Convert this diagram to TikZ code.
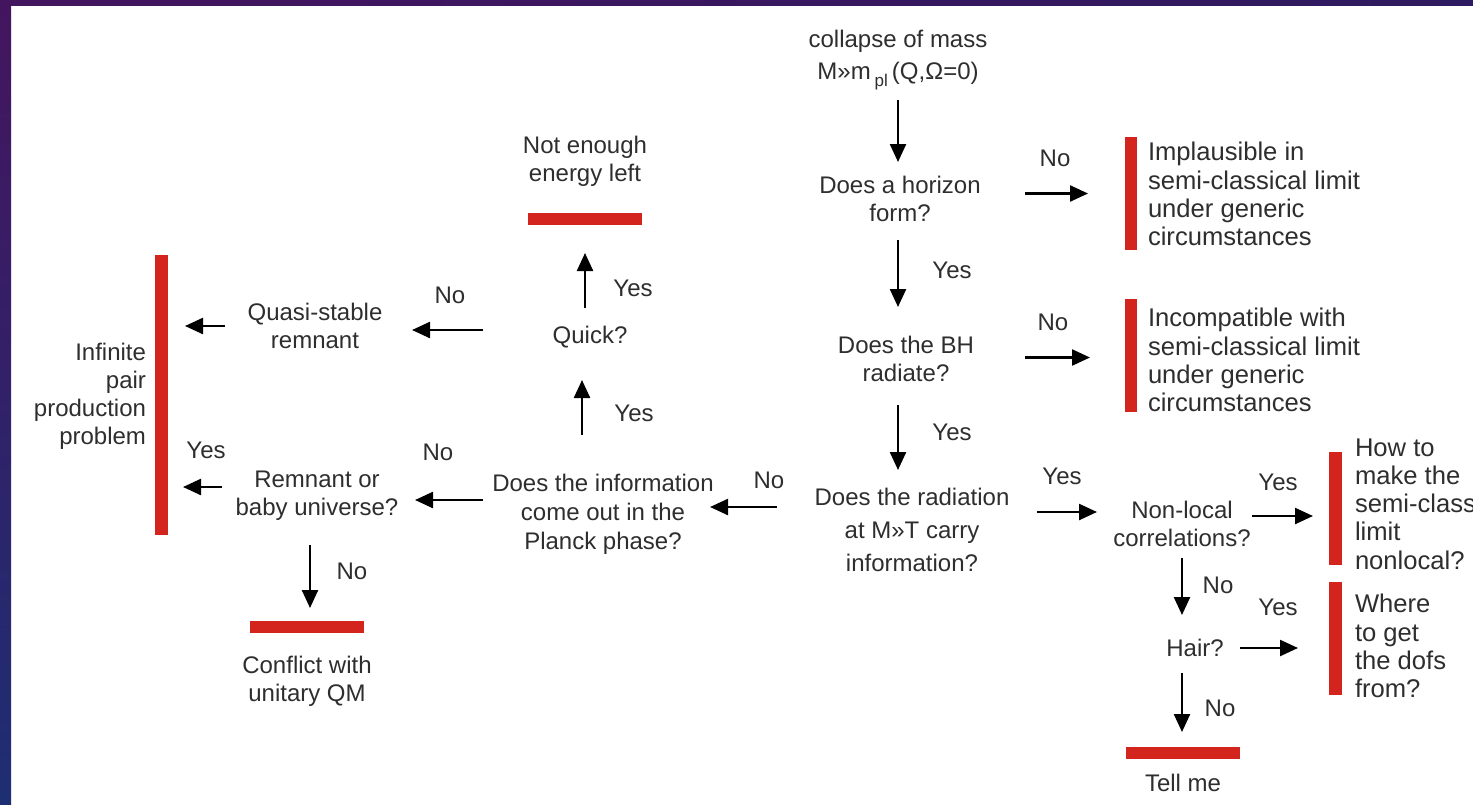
\documentclass[tikz,border=0pt]{standalone}
\usepackage{fontspec}
\setmainfont{Liberation Sans}
\usetikzlibrary{arrows.meta,calc}
\definecolor{txt}{HTML}{2E2E2E}
\definecolor{barred}{HTML}{D4241E}
\definecolor{bgpurple}{HTML}{44155F}
\definecolor{bgpurple2}{HTML}{2E1A60}
\definecolor{bgblue}{HTML}{1E2E72}
\tikzset{
  lbl/.style={text=txt, inner sep=0pt, outer sep=0pt, font=\fontsize{12}{14}\selectfont},
  qbox/.style={text=txt, inner sep=0pt, outer sep=0pt, align=center, font=\fontsize{12}{14}\selectfont},
  rbox/.style={text=txt, inner sep=0pt, outer sep=0pt, align=left, anchor=west, font=\fontsize{12.8}{14.1}\selectfont},
  hbar/.style={fill=barred, inner sep=0pt, outer sep=0pt, minimum width=57pt, minimum height=6pt},
  vbar/.style={fill=barred, inner sep=0pt, outer sep=0pt, minimum width=6.3pt, minimum height=56.5pt},
  arr/.style={draw=black, line width=1.2pt, -{Triangle[length=9pt,width=8pt]}},
  gap/.style 2 args={shorten <=#1*0.5pt, shorten >=#2*0.5pt}
}
\begin{document}
\begin{tikzpicture}[x=0.5pt,y=-0.5pt]
\useasboundingbox (0,0) rectangle (1473,804);
\clip (0,0) rectangle (1473,804);
% frame
\fill[white] (0,0) rectangle (1473,804);
\shade[left color=bgpurple, right color=bgpurple2] (0,0) rectangle (1473,5);
\shade[top color=bgpurple, bottom color=bgblue] (0,0) rectangle (11,804);

% decision / text nodes
\node[qbox] (collapse) at (898,60) {collapse of mass\\[2pt]M»m\,\raisebox{-0.55ex}{\fontsize{8.5}{9}\selectfont pl}\,(Q,Ω=0)};
\node[qbox] (horizon) at (900,199) {Does a horizon\\form?};
\node[qbox] (bh) at (906,359) {Does the BH\\radiate?};
\node[qbox, font=\fontsize{12}{16.5}\selectfont] (radiation) at (912,530) {Does the radiation\\at M»T carry\\information?};
\node[qbox, font=\fontsize{12}{14.5}\selectfont] (info) at (603,514) {Does the information\\come out in the\\Planck phase?};
\node[qbox] (remnant) at (317,496) {Remnant or\\baby universe?};
\node[qbox] (quasi) at (315,326) {Quasi-stable\\remnant};
\node[qbox] (quick) at (590,337) {Quick?};
\node[qbox] (notenough) at (585,161) {Not enough\\energy left};
\node[qbox] (nonlocal) at (1182,524) {Non-local\\correlations?};
\node[qbox] (hair) at (1195,648) {Hair?};
\node[qbox] (tellme) at (1183,783) {Tell me};
\node[qbox] (conflict) at (307,681) {Conflict with\\unitary QM};
\node[qbox, align=right, anchor=east] (infinite) at (146,396) {Infinite\\pair\\production\\problem};

% outcome texts on the right
\node[rbox] (implaus) at (1148,194) {Implausible in\\semi-classical limit\\under generic\\circumstances};
\node[rbox] (incompat) at (1148,360) {Incompatible with\\semi-classical limit\\under generic\\circumstances};
\node[rbox] (howto) at (1355,504) {How to\\make the\\semi-classical\\limit\\nonlocal?};
\node[rbox] (where) at (1355,646) {Where\\to get\\the dofs\\from?};

% red bars
\node[hbar] (barA) at (585,219) {};
\node[vbar, minimum height=140pt] (barB) at (161.5,395) {};
\node[hbar] (barC) at (307,626.5) {};
\node[vbar] (bar1) at (1131,193.5) {};
\node[vbar] (bar2) at (1131,355.5) {};
\node[vbar] (bar3) at (1335.5,508.5) {};
\node[vbar] (bar4) at (1335.5,638.5) {};
\node[hbar] (barT) at (1183,753) {};

% arrows
\draw[arr, gap={40}{37}] (collapse.center) -- (collapse.center |- horizon.center);
\draw[arr, gap={41}{52}] (collapse.center |- horizon.center) -- (collapse.center |- bh.center);
\draw[arr, gap={46}{60}] (collapse.center |- bh.center) -- (collapse.center |- radiation.center);
\draw[arr, gap={125}{43}] (horizon.center |- bar1.center) -- (bar1.center);
\draw[arr, gap={119}{41}] ($(bh.center |- bar2.center)+(0,2)$) -- ($(bar2.center)+(0,2)$);
\draw[arr, gap={135}{107}] ($(info.center -| radiation.center)+(0,-7)$) -- ($(info.center)+(0,-7)$);
\draw[arr, gap={125}{85}] ($(nonlocal.center -| radiation.center)+(0,-12)$) -- ($(nonlocal.center)+(0,-12)$);
\draw[arr, gap={70}{22.5}] ($(nonlocal.center)+(0,-8)$) -- ($(nonlocal.center -| bar3.center)+(0,-8)$);
\draw[arr, gap={34}{33}] (nonlocal.center) -- (nonlocal.center |- hair.center);
\draw[arr, gap={45}{37.5}] (hair.center) -- (hair.center -| bar4.center);
\draw[arr, gap={25}{21}] ($(barT.center |- hair.center)+(-1,0)$) -- ($(barT.center)+(-1,0)$);
\draw[arr, gap={120}{98}] ($(info.center |- remnant.center)+(0,4)$) -- ($(remnant.center)+(0,4)$);
\draw[arr, gap={79}{43}] ($(quick.center |- info.center)+(-8,0)$) -- ($(quick.center)+(-8,0)$);
\draw[arr, gap={29}{34}] (barA.center |- quick.center) -- (barA.center);
\draw[arr, gap={107}{97}] ($(quasi.center -| quick.center)+(0,4)$) -- ($(quasi.center)+(0,4)$);
\draw[arr, gap={90}{23.5}] (quasi.center) -- (quasi.center -| barB.center);
\draw[arr, gap={95}{21.5}] ($(remnant.center)+(0,-9)$) -- ($(remnant.center -| barB.center)+(0,-9)$);
\draw[arr, gap={49}{18.5}] ($(remnant.center)+(-7,0)$) -- ($(remnant.center |- barC.center)+(-7,0)$);

% branch labels
\node[lbl] (no1) at (1055,158) {No};
\node[lbl] (yes1) at (952,270) {Yes};
\node[lbl] (no2) at (1053,322) {No};
\node[lbl] (yes2) at (952,432) {Yes};
\node[lbl] (no3) at (769,480) {No};
\node[lbl] (yes3) at (1062,476) {Yes};
\node[lbl] (yes4) at (1278,482) {Yes};
\node[lbl] (no4) at (1218,585) {No};
\node[lbl] (yes5) at (1278,607) {Yes};
\node[lbl] (no5) at (1220,708) {No};
\node[lbl] (no6) at (438,452) {No};
\node[lbl] (yes6) at (206,450) {Yes};
\node[lbl] (no7) at (450,295) {No};
\node[lbl] (yes7) at (634,413) {Yes};
\node[lbl] (yes8) at (633,288) {Yes};
\node[lbl] (no8) at (352,571) {No};
\end{tikzpicture}
\end{document}
